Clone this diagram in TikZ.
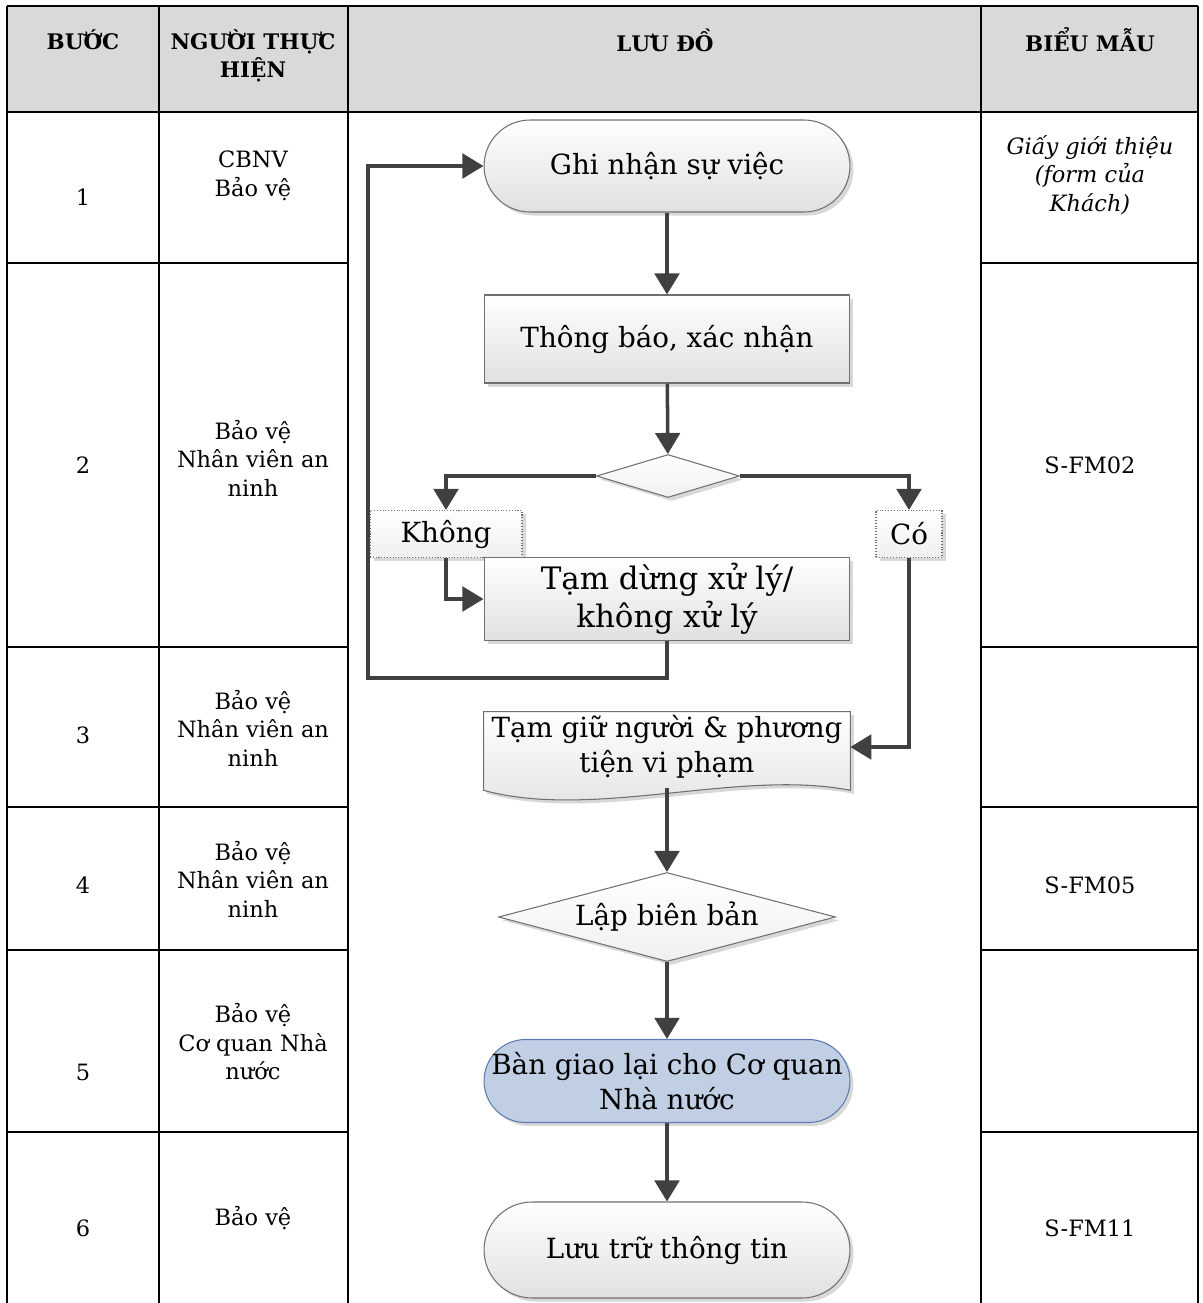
\documentclass[tikz,border=0pt]{standalone}
\usepackage{fontspec}
\setmainfont{DejaVu Serif}
\usetikzlibrary{calc,arrows.meta,positioning,shapes.geometric,shadows}
\definecolor{flowgray}{HTML}{404040}
\definecolor{edgegray}{HTML}{707070}
\definecolor{headgray}{HTML}{D9D9D9}
\definecolor{handblue}{HTML}{C0CFE3}
\definecolor{handedge}{HTML}{5B7BAE}
\tikzstyle{arrow} = [line width=2pt,draw=flowgray,-{Triangle[length=12pt,width=14pt]}]
\tikzstyle{tablerule} = [line width=1.2pt]
\tikzstyle{cell} = [align=center,font=\fontsize{12.8}{16.2}\selectfont]
\tikzstyle{head} = [align=center,font=\fontsize{12.2}{15.8}\selectfont\bfseries]
\tikzstyle{box} = [rectangle,draw=edgegray,line width=0.6pt,top color=white,bottom color=black!12,
  drop shadow={shadow xshift=2pt,shadow yshift=-2pt,fill=black!30,opacity=0.5},
  minimum width=7.32cm,align=center,font=\fontsize{15.8}{20}\selectfont]
\tikzstyle{terminal} = [box,inner xsep=1pt]

\begin{document}
\begin{tikzpicture}[x=0.02cm,y=-0.02cm]
	\useasboundingbox (0,0) rectangle (1203,1303);

	%% table frame
	\fill[headgray] (7,6) rectangle (1198,112);
	\draw[tablerule] (7,6) -- (1198,6);
	\draw[tablerule] (7,112) -- (1198,112);
	\foreach \y in {263,647,807,950,1132} {
		\draw[tablerule] (7,\y) -- (348,\y);
		\draw[tablerule] (981,\y) -- (1198,\y);
	}
	\foreach \x in {7,159,348,981,1198}
		\draw[tablerule] (\x,6) -- (\x,1303);

	%% header
	\node[head] (hbuoc) at (83,40) {BƯỚC};
	\node[head] (hnguoi) at (253,56) {NGƯỜI THỰC\\HIỆN};
	\node[head] (hluudo) at (665,40) {LƯU ĐỒ};
	\node[head] (hbieumau) at (1090,40) {BIỂU MẪU};

	%% step numbers
	\foreach \n/\y in {1/197,2/465,3/735,4/885,5/1072,6/1228}
		\node[cell] (num\n) at (83,\y) {\n};

	%% who does it
	\node[cell] (ng1) at (253,176) {CBNV\\Bảo vệ};
	\node[cell] (ng2) at (253,458) {Bảo vệ\\Nhân viên an\\ninh};
	\node[cell] (ng3) at (253,728) {Bảo vệ\\Nhân viên an\\ninh};
	\node[cell] (ng4) at (253,879) {Bảo vệ\\Nhân viên an\\ninh};
	\node[cell] (ng5) at (253,1042) {Bảo vệ\\Cơ quan Nhà\\nước};
	\node[cell] (ng6) at (253,1218) {Bảo vệ};

	%% forms
	\node[cell,font=\fontsize{12.8}{16.2}\selectfont\itshape] (bm1) at (1090,175) {Giấy giới thiệu\\(form của\\Khách)};
	\node[cell] (bm2) at (1090,465) {S-FM02};
	\node[cell] (bm4) at (1090,885) {S-FM05};
	\node[cell] (bm6) at (1090,1228) {S-FM11};

	%% flow chart
	\node[terminal,rounded corners=0.92cm,minimum height=1.84cm] (ghinhan) at (667,166) {Ghi nhận sự việc};
	\node[box,minimum height=1.76cm] (thongbao) at (667,339) {Thông báo, xác nhận};
	\node[box,diamond,inner sep=0pt,minimum width=2.86cm,minimum height=0.86cm,bottom color=black!6] (quyetdinh) at (668,476) {};
	\node[box,densely dotted,minimum width=3.04cm,minimum height=0.94cm,bottom color=black!6] (khong) at (446,534) {Không};
	\node[box,densely dotted,minimum width=1.32cm,minimum height=0.94cm,bottom color=black!6] (co) at (909,534) {Có};
	\node[box,minimum height=1.64cm,font=\fontsize{17.6}{21.5}\selectfont] (tamdung) at (667,599) {Tạm dừng xử lý/\\không xử lý};

	% document shape
	\node[minimum width=7.32cm,minimum height=1.4cm] (tamgiu) at (667,747) {};
	\filldraw[draw=edgegray,line width=0.6pt,top color=white,bottom color=black!12,
	  drop shadow={shadow xshift=2pt,shadow yshift=-2pt,fill=black!30,opacity=0.5}]
	  (tamgiu.north west) -- ($(tamgiu.south west)+(0,8)$)
	  .. controls +(110,30) and +(-110,-22) .. ($(tamgiu.south east)+(0,8)$)
	  -- (tamgiu.north east) -- cycle;
	\node[align=center,font=\fontsize{15.8}{20}\selectfont] (tamgiutext) at (tamgiu.center) {Tạm giữ người \& phương\\tiện vi phạm};

	\node[box,diamond,aspect=3.79,inner sep=0pt,minimum width=6.74cm,minimum height=1.78cm,bottom color=black!6] (lapbb) at (667,917) {Lập biên bản};
	\node[terminal,rounded corners=0.83cm,minimum height=1.66cm,draw=handedge,top color=handblue,bottom color=handblue] (bangiao) at (667,1081) {Bàn giao lại cho Cơ quan\\Nhà nước};
	\node[terminal,rounded corners=0.96cm,minimum height=1.92cm] (luutru) at (667,1250) {Lưu trữ thông tin};

	\coordinate (loopcorner) at (368,678);

	%% connectors
	\draw[arrow] (ghinhan) -- (thongbao);
	\draw[arrow] (thongbao) -- (quyetdinh);
	\draw[arrow] (quyetdinh.west) -| (khong);
	\draw[arrow] (quyetdinh.east) -| (co);
	\draw[arrow] (khong) |- (tamdung);
	\draw[arrow] (tamdung.south) |- (loopcorner) |- (ghinhan.west);
	\draw[arrow] (co) |- (tamgiu.east);
	\draw[arrow] ($(tamgiu.south)+(0,6)$) -- (lapbb);
	\draw[arrow] (lapbb) -- (bangiao);
	\draw[arrow] (bangiao) -- (luutru);
\end{tikzpicture}
\end{document}
